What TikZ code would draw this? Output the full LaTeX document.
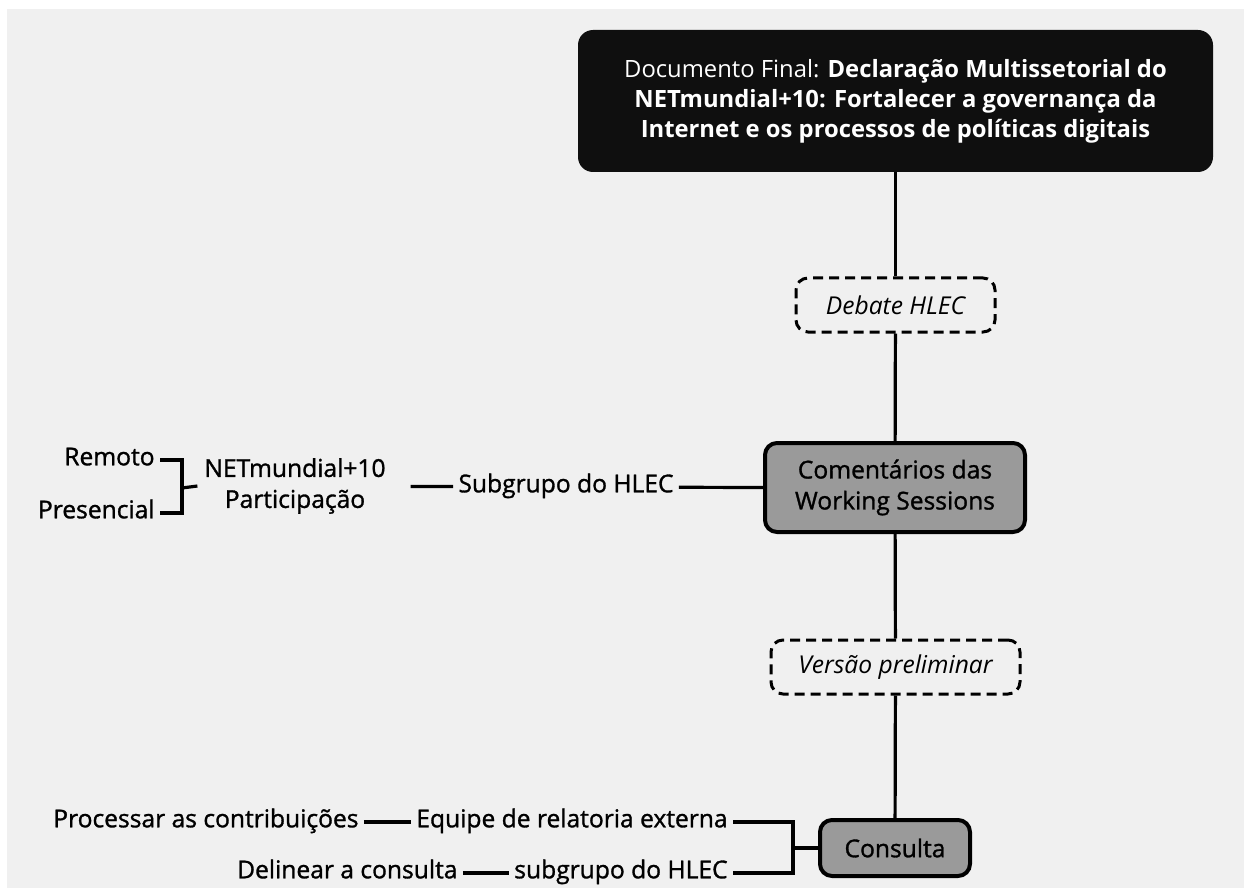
\documentclass[tikz,border=0pt]{standalone}
\usepackage{fontspec}
\setmainfont{Open Sans}
\newfontfamily\medfont{Open Sans}[FakeBold=1.2]
\usetikzlibrary{positioning}
\definecolor{paper}{HTML}{F0F0F0}
\definecolor{stagegrey}{HTML}{9A9A9A}
\definecolor{finalblack}{HTML}{0F0F0F}
\tikzset{
  link/.style={line width=1.6pt},
  finalbox/.style={fill=finalblack,rounded corners=7.5pt,text=white,align=center,
    minimum width=317.5pt,minimum height=71pt,font=\fontsize{11.9}{15}\selectfont},
  stagebox/.style={draw,line width=2pt,fill=stagegrey,rounded corners=6pt,align=center,
    font=\medfont\fontsize{12.3}{15.5}\selectfont},
  draftbox/.style={draw,dash pattern=on 5pt off 3pt,line width=1.5pt,fill=paper,
    rounded corners=6pt,font=\itshape\fontsize{12.3}{15.5}\selectfont,
    minimum height=27pt},
  lbl/.style={inner sep=2.5pt,align=center,text height=0.75em,text depth=0.22em,
    font=\medfont\fontsize{12.3}{15.5}\selectfont}
}
\begin{document}
\begin{tikzpicture}[x=0.5pt,y=-0.5pt]
\fill[white] (0,0) rectangle (1244,888);
\fill[paper] (7,9) rectangle (1244,888);
% main column
\node[finalbox] (final) at (895.5,101) {Documento Final: \textbf{Declaração Multissetorial do}\\ \textbf{NETmundial+10: Fortalecer a governança da}\\ \textbf{Internet e os processos de políticas digitais}};
\node[draftbox,minimum width=99.5pt] (debate) at (895.5,305) {Debate HLEC};
\node[stagebox,minimum width=130pt,minimum height=44.5pt] (coment) at (895,487.5) {Comentários das\\ Working Sessions};
\node[draftbox,minimum width=124.5pt] (versao) at (895.5,667) {Versão preliminar};
\node[stagebox,minimum width=75pt,minimum height=28pt] (consulta) at (895,848) {Consulta};
\draw[link] (final) -- (debate);
\draw[link] (debate) -- (coment);
\draw[link] (coment) -- (versao);
\draw[link] (versao) -- (consulta);
% participation branch
\node[lbl] (subgrupo) at (566,487) {Subgrupo do HLEC};
\node[align=center,font=\medfont\fontsize{12.3}{15.5}\selectfont] (particip) at (295,486) {NETmundial+10\\ Participação};
\node[lbl,anchor=east] (remoto) at (160,460) {Remoto};
\node[lbl,anchor=east] (presencial) at (160,513) {Presencial};
\coordinate (brk) at (182,488);
\draw[link] (coment.west) -- (subgrupo);
\draw[link,shorten >=9pt] (subgrupo) -- (particip);
\draw[link] (remoto.east) -| (brk) |- (presencial.east);
\draw[link] (brk) -- (particip.west);
% consultation branch
\node[lbl,anchor=east] (equipe) at (733,822) {Equipe de relatoria externa};
\node[lbl,anchor=east] (subgrupob) at (733,873) {subgrupo do HLEC};
\node[lbl,left=23.5pt of equipe] (processar) {Processar as contribuições};
\node[lbl,left=23pt of subgrupob] (delinear) {Delinear a consulta};
\coordinate (brkb) at (793,848);
\draw[link] (equipe.east) -| (brkb) |- (subgrupob.east);
\draw[link] (brkb) -- (consulta.west);
\draw[link] (processar) -- (equipe);
\draw[link] (delinear) -- (subgrupob);
\end{tikzpicture}
\end{document}
